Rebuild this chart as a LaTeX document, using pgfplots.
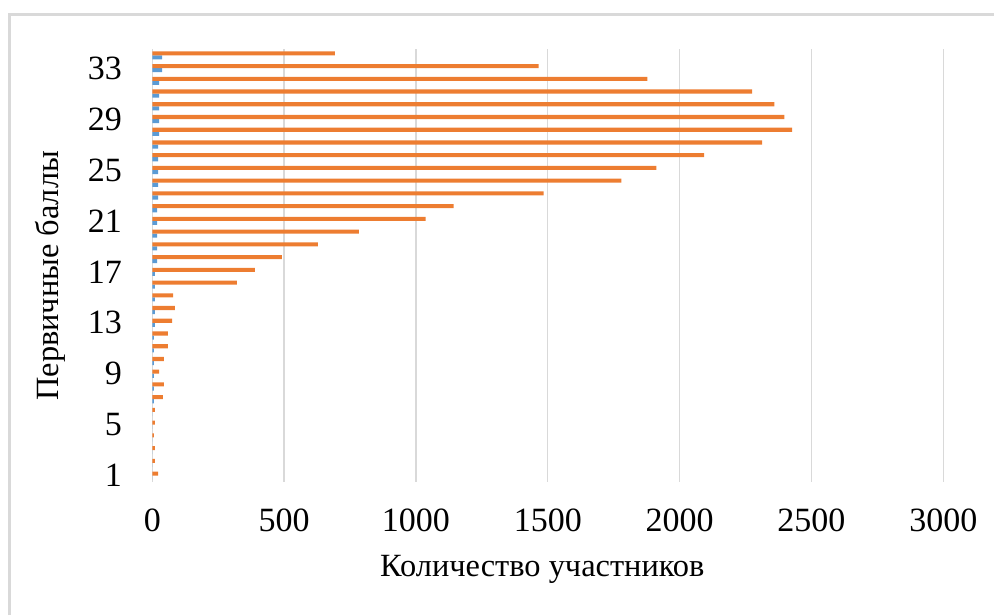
\documentclass[border=0pt]{standalone}
\usepackage{pgfplots}
\pgfplotsset{compat=1.18}
\usepackage{fontspec}
\setmainfont{Liberation Serif}
\definecolor{xlorange}{HTML}{ED7D31}
\definecolor{xlblue}{HTML}{5B9BD5}
\definecolor{xlgrid}{HTML}{D9D9D9}
\pgfplotstableread{
cat blue orange
1 0 22
2 0 10
3 0 10
4 0 6
5 0 10
6 0 10
7 6 40
8 6 44
9 6 26
10 6 44
11 6 59
12 6 59
13 10 75
14 10 86
15 10 79
16 10 321
17 10 389
18 18 491
19 18 628
20 18 783
21 18 1037
22 18 1143
23 22 1484
24 22 1779
25 22 1912
26 22 2093
27 22 2313
28 26 2427
29 26 2397
30 26 2359
31 26 2275
32 26 1878
33 37 1465
34 37 692
}\datatable
\begin{document}
\begin{tikzpicture}
\useasboundingbox (0,0) rectangle (497pt,307.5pt);
\draw[xlgrid, line width=1.35pt] (4.85pt,0) -- (4.85pt,300.25pt) -- (497pt,300.25pt);
\begin{axis}[
  at={(76.15pt,66.5pt)}, anchor=south west,
  scale only axis, width=395.5pt, height=216.5pt,
  xmin=0, xmax=3000, ymin=0.5, ymax=34.5,
  xtick={0,500,...,3000}, ytick={1,5,...,33},
  axis line style={draw=none},
  major tick length=0pt,
  xmajorgrids, major grid style={xlgrid, line width=0.65pt},
  /pgf/number format/assume math mode=true,
  /pgf/number format/1000 sep={},
  ticklabel style={font=\fontsize{17}{20}\selectfont},
  xticklabel style={inner sep=0pt, anchor=north, yshift=-13.25pt},
  yticklabel style={inner sep=0pt, anchor=east, xshift=-15pt},
  xlabel={Количество участников},
  ylabel={Первичные баллы},
  label style={font=\fontsize{16.2}{19}\selectfont},
  xlabel style={at={(axis description cs:0.493,-0.219)}, anchor=base},
  ylabel style={at={(axis description cs:-0.129,0.476)}, anchor=center, rotate=0},
  xbar, bar width=0.32,
]
\addplot[draw=none, fill=xlblue, bar shift=-0.16] table[x=blue, y=cat] {\datatable};
\addplot[draw=none, fill=xlorange, bar shift=0.16] table[x=orange, y=cat] {\datatable};
\end{axis}
\end{tikzpicture}
\end{document}
